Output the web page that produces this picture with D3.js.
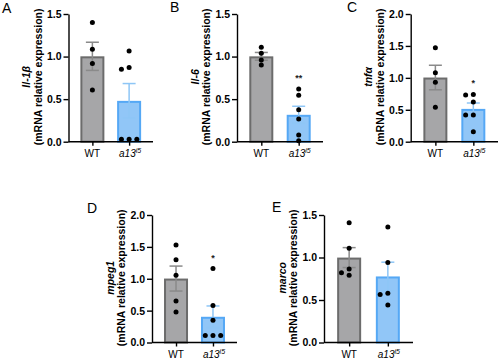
<!DOCTYPE html>
<html>
<head>
<meta charset="utf-8">
<script src="https://cdn.jsdelivr.net/npm/d3@7"></script>
<style>
  body { margin: 0; background: #fff; }
  svg { font-family: "Liberation Sans", Arial, sans-serif; }
</style>
</head>
<body>
<script>
// groups on the x axis
var groups = ["WT", "a13"];

// individual fish values (mRNA relative expression)
var il1bWT = [1.40, 1.085, 0.92, 0.607];
var il1bA13 = [1.065, 0.873, 0.85, 0.03, 0.03, 0.03];
var il6WT = [1.11, 1.04, 0.96, 0.90];
var il6A13 = [0.62, 0.545, 0.376, 0.266, 0.078, 0.01];
var tnfaWT = [1.47, 1.08, 0.93, 0.54];
var tnfaA13 = [0.74, 0.73, 0.62, 0.418, 0.418, 0.157];
var mpeg1WT = [1.53, 1.30, 1.055, 0.65, 0.48];
var mpeg1A13 = [1.16, 0.58, 0.35, 0.11, 0.11, 0.11];
var marcoWT = [1.41, 1.11, 0.865, 0.82, 0.79];
var marcoA13 = [1.36, 0.94, 0.58, 0.565, 0.44];

// significance marks above the a13 group
var stars = ["", "**", "*", "*", ""];
var genes = ["Il-1\u03b2", "Il-6", "tnf\u03b1", "mpeg1", "marco"];
var letters = ["A", "B", "C", "D", "E"];
var yMaxes = [1.5, 1.5, 2.0, 2.0, 1.5];

var series = [
  [il1bWT, il1bA13],
  [il6WT, il6A13],
  [tnfaWT, tnfaA13],
  [mpeg1WT, mpeg1A13],
  [marcoWT, marcoA13]
];

// panel boxes (layout only)
var boxes = [
  {left: 68.5, right: 153, top: 14, bottom: 141.7, lx: 2, ly: 13},
  {left: 237, right: 323, top: 14, bottom: 141.7, lx: 170, ly: 12},
  {left: 410.7, right: 498, top: 14, bottom: 141.7, lx: 347, ly: 12},
  {left: 152, right: 237, top: 215, bottom: 342.5, lx: 87, ly: 213},
  {left: 324, right: 413, top: 215, bottom: 342.5, lx: 272, ly: 212}
];

var colors = {
  WT: {fill: "#a6a6a8", stroke: "#6c6c6c", err: "#8a8a8a"},
  a13: {fill: "#91c6f7", stroke: "#55a8f5", err: "#8ec6f6"}
};

var width = 500, height = 361;

var svg = d3.select("body")
  .append("svg")
  .attr("width", width)
  .attr("height", height);

function drawPanel(i) {
  var b = boxes[i];
  var g = svg.append("g");

  var y = d3.scaleLinear().domain([0, yMaxes[i]]).range([b.bottom, b.top]);
  var x = d3.scalePoint().domain(groups).range([b.left, b.right]).padding(0.65);
  var barW = 24;

  var stats = groups.map(function(grp, k) {
    var vals = series[i][k];
    return {
      group: grp,
      vals: vals,
      mean: d3.mean(vals),
      sem: d3.deviation(vals) / Math.sqrt(vals.length)
    };
  });

  // bars
  g.selectAll("rect.bar")
    .data(stats)
    .enter()
    .append("rect")
    .attr("x", function(d) { return x(d.group) - barW / 2 + 1; })
    .attr("y", function(d) { return y(d.mean) + 1; })
    .attr("width", barW - 2)
    .attr("height", function(d) { return y(0) - y(d.mean) - 1; })
    .attr("fill", function(d) { return colors[d.group].fill; })
    .attr("stroke", function(d) { return colors[d.group].stroke; })
    .attr("stroke-width", 2);

  // error bars, both directions
  stats.forEach(function(d) {
    var cx = x(d.group);
    var c = colors[d.group].err;
    var lo = y(d.mean - d.sem), hi = y(d.mean + d.sem);
    g.append("line").attr("x1", cx).attr("x2", cx).attr("y1", lo).attr("y2", hi)
      .attr("stroke", c).attr("stroke-width", 1.5);
    [lo, hi].forEach(function(yy) {
      g.append("line").attr("x1", cx - 6.5).attr("x2", cx + 6.5).attr("y1", yy).attr("y2", yy)
        .attr("stroke", c).attr("stroke-width", 1.5);
    });
  });

  // dots with a simple collision spread
  stats.forEach(function(d) {
    var cx = x(d.group);
    var placed = [];
    d.vals.forEach(function(v) {
      var py = y(v);
      var offsets = [0, -7.7, 7.7, -15.4, 15.4];
      for (var o = 0; o < offsets.length; o++) {
        var px = cx + offsets[o];
        var hit = placed.some(function(p) {
          return Math.abs(p[0] - px) < 5 && Math.abs(p[1] - py) < 5;
        });
        if (!hit) { placed.push([px, py]); break; }
      }
    });
    g.selectAll(null)
      .data(placed)
      .enter()
      .append("circle")
      .attr("cx", function(p) { return p[0]; })
      .attr("cy", function(p) { return p[1]; })
      .attr("r", 2.5)
      .attr("fill", "#000");
  });

  // significance
  if (stars[i]) {
    var a = stats[1];
    g.append("text")
      .attr("x", x("a13"))
      .attr("y", y(d3.max(a.vals)) - 8)
      .attr("text-anchor", "middle")
      .attr("font-size", 9)
      .attr("font-weight", "bold")
      .attr("fill", "#222")
      .text(stars[i]);
  }

  // y axis
  var yAxis = d3.axisLeft(y).ticks(yMaxes[i] / 0.5).tickFormat(d3.format(".1f")).tickSize(5).tickSizeOuter(0);
  var ya = g.append("g").attr("transform", "translate(" + b.left + ",0)").call(yAxis);
  ya.select(".domain").attr("stroke-width", 1.4);
  ya.selectAll(".tick line").attr("stroke-width", 1.4);
  ya.selectAll(".tick text")
    .attr("font-size", 10.5)
    .attr("font-weight", "bold")
    .attr("font-family", "Liberation Sans, Arial, sans-serif")
    .attr("x", -7);

  // x axis
  var xAxis = d3.axisBottom(x).tickSize(4).tickSizeOuter(0).tickFormat("");
  var xa = g.append("g").attr("transform", "translate(0," + b.bottom + ")").call(xAxis);
  xa.select(".domain").attr("d", "M" + b.left + ",0H" + b.right).attr("stroke-width", 1.4);
  xa.selectAll(".tick line").attr("stroke-width", 1.4);

  // x labels
  g.append("text")
    .attr("x", x("WT"))
    .attr("y", b.bottom + 15.5)
    .attr("text-anchor", "middle")
    .attr("font-size", 10)
    .text("WT");
  var t = g.append("text")
    .attr("x", x("a13") + 1)
    .attr("y", b.bottom + 15.5)
    .attr("text-anchor", "middle")
    .attr("font-size", 10)
    .attr("font-style", "italic");
  t.append("tspan").text("a13");
  t.append("tspan").attr("dy", -4).attr("font-size", 7).text("i5");

  // y title
  var midY = (b.top + b.bottom) / 2 - 1;
  var title = g.append("text")
    .attr("transform", "translate(" + (b.left - 27) + "," + midY + ") rotate(-90)")
    .attr("text-anchor", "middle")
    .attr("font-size", 10.5)
    .attr("font-weight", "bold");
  title.append("tspan").attr("x", 0).attr("dy", -11.5).attr("font-style", "italic").text(genes[i]);
  title.append("tspan").attr("x", 0).attr("dy", 11.5).text("(mRNA relative expression)");

  // panel letter
  svg.append("text")
    .attr("x", b.lx)
    .attr("y", b.ly)
    .attr("font-size", 14)
    .text(letters[i]);
}

for (var i = 0; i < boxes.length; i++) {
  drawPanel(i);
}
</script>
</body>
</html>
